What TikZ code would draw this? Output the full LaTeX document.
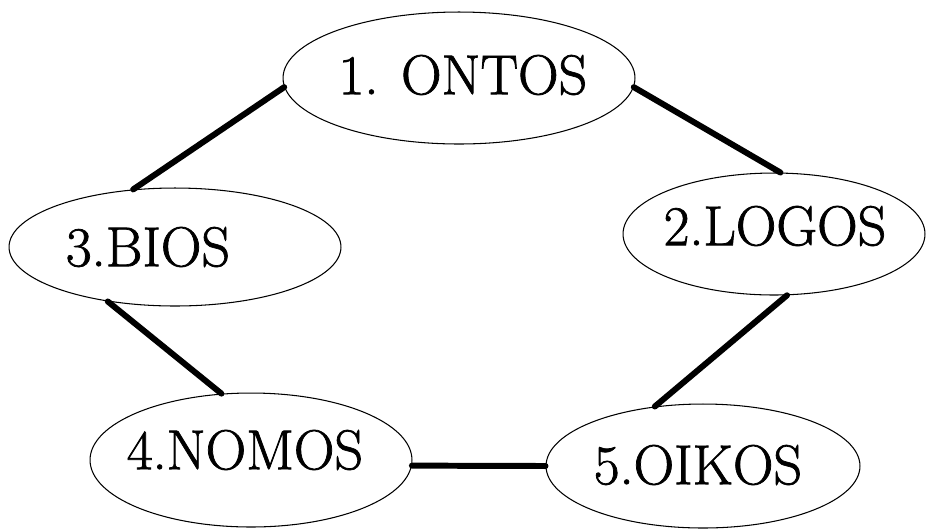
\documentclass[tikz,border=0pt]{standalone}
\usepackage{fontspec}
\newfontfamily\heavyfont{Latin Modern Roman}[FakeBold=1.3]
\usetikzlibrary{shapes.geometric}
\begin{document}
\begin{tikzpicture}[x=0.02cm,y=-0.02cm,
  oval/.style={draw=black,ellipse,line width=0.6pt,inner sep=0pt,fill=white},
  lbl/.style={font=\heavyfont\fontsize{32}{38}\selectfont,inner sep=0pt,text=black},
  link/.style={line width=3.4pt,line cap=round,draw=black}]
\useasboundingbox[fill=white] (0,0) rectangle (926,529);
% ellipses
\node[oval,minimum width=7.04cm,minimum height=2.64cm] (e1) at (459,78) {};
\node[oval,minimum width=6.04cm,minimum height=2.44cm] (e2) at (774,234) {};
\node[oval,minimum width=6.64cm,minimum height=2.36cm] (e3) at (175,247) {};
\node[oval,minimum width=6.44cm,minimum height=2.68cm] (e4) at (251,460) {};
\node[oval,minimum width=6.28cm,minimum height=2.48cm] (e5) at (703,466) {};
% labels
\node[lbl] (t1) at (463,75) {1. ONTOS};
\node[lbl] (t2) at (775,226) {2.LOGOS};
\node[lbl] (t3) at (148,247) {3.BIOS};
\node[lbl] (t4) at (245,450) {4.NOMOS};
\node[lbl] (t5) at (698,465) {5.OIKOS};
% connectors
\draw[link] (e1.183) -- (e3.126);
\draw[link] (e1.357) -- (e2.84.5);
\draw[link] (e3.219.4) -- (e4.114);
\draw[link] (e2.282.4) -- (e5.129.3);
\draw[link] (e4.358) -- (e5.180);
\end{tikzpicture}
\end{document}
